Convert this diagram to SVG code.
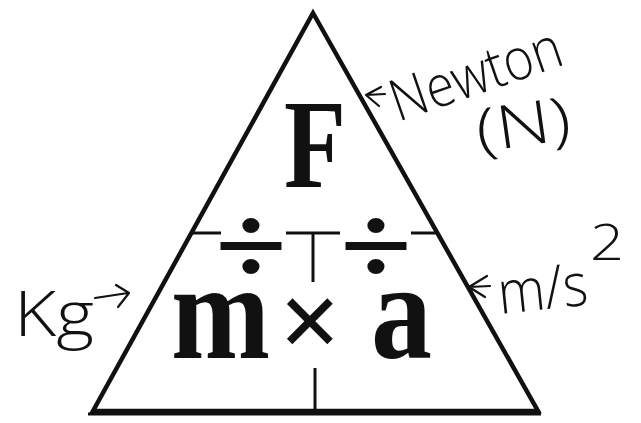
<svg xmlns="http://www.w3.org/2000/svg" width="641" height="423" viewBox="0 0 641 423">
<style>
.edge{fill:none;stroke:#111;stroke-width:4.5;stroke-linejoin:miter}
.div{stroke:#111;stroke-width:3;fill:none}
.sym{font-family:"Liberation Serif","Times New Roman",serif;font-weight:bold;fill:#111}
.hand{font-family:"Open Sans","DejaVu Sans",sans-serif;fill:#111;font-weight:300}
.ink{fill:none;stroke:#111;stroke-width:2.2;stroke-linecap:round;stroke-linejoin:round}
</style>
<rect width="641" height="423" fill="#fff"/>
<g id="triangle">
<path class="edge" d="M313,13 L93,411 L538,411 Z"/>
<line x1="88" y1="414" x2="541" y2="414" stroke="#111" stroke-width="3"/>
</g>
<g id="dividers">
<line class="div" x1="191" y1="233" x2="221" y2="233"/>
<line class="div" x1="286" y1="233" x2="340" y2="233"/>
<line class="div" x1="313" y1="233" x2="313" y2="282"/>
<line class="div" x1="411" y1="233" x2="438" y2="233"/>
<line class="div" x1="315" y1="368" x2="315" y2="411"/>
</g>
<g id="force">
<text class="sym" x="284" y="187" font-size="127" textLength="62" lengthAdjust="spacingAndGlyphs">F</text>
</g>
<g id="divide-left">
<text class="sym" x="251" y="284" font-size="115" text-anchor="middle" textLength="72" lengthAdjust="spacingAndGlyphs">÷</text>
</g>
<g id="divide-right">
<text class="sym" x="376" y="284" font-size="115" text-anchor="middle" textLength="72" lengthAdjust="spacingAndGlyphs">÷</text>
</g>
<g id="mass">
<text class="sym" x="171" y="358" font-size="138" textLength="99" lengthAdjust="spacingAndGlyphs">m</text>
</g>
<g id="times">
<text class="sym" x="310" y="358" font-size="110" text-anchor="middle">×</text>
</g>
<g id="acceleration">
<text class="sym" x="371" y="358" font-size="138" textLength="61" lengthAdjust="spacingAndGlyphs">a</text>
</g>
<g id="connectors">
<path class="ink" d="M381,87 L366,95 L379,106 M366,95 L385,94"/>
<path class="ink" d="M95,298 L128,293 M116,285 L129,293 L118,307"/>
<path class="ink" d="M487,276 L469,287 L485,297 M469,287 L490,286"/>
</g>
<g id="label-newton">
<text class="hand" transform="translate(398,122) rotate(-19)" font-size="58" textLength="178" lengthAdjust="spacingAndGlyphs">Newton</text>
<text class="hand" transform="translate(479,152) rotate(-8)" font-size="60" textLength="95" lengthAdjust="spacingAndGlyphs">(N)</text>
</g>
<g id="label-kg">
<text class="hand" x="14" y="336" font-size="62" textLength="80" lengthAdjust="spacingAndGlyphs">Kg</text>
</g>
<g id="label-ms2">
<text class="hand" transform="translate(500,314) rotate(-6)" font-size="60" textLength="90" lengthAdjust="spacingAndGlyphs">m/s</text>
<text class="hand" x="590" y="260" font-size="50" textLength="34" lengthAdjust="spacingAndGlyphs">2</text>
</g>
</svg>
